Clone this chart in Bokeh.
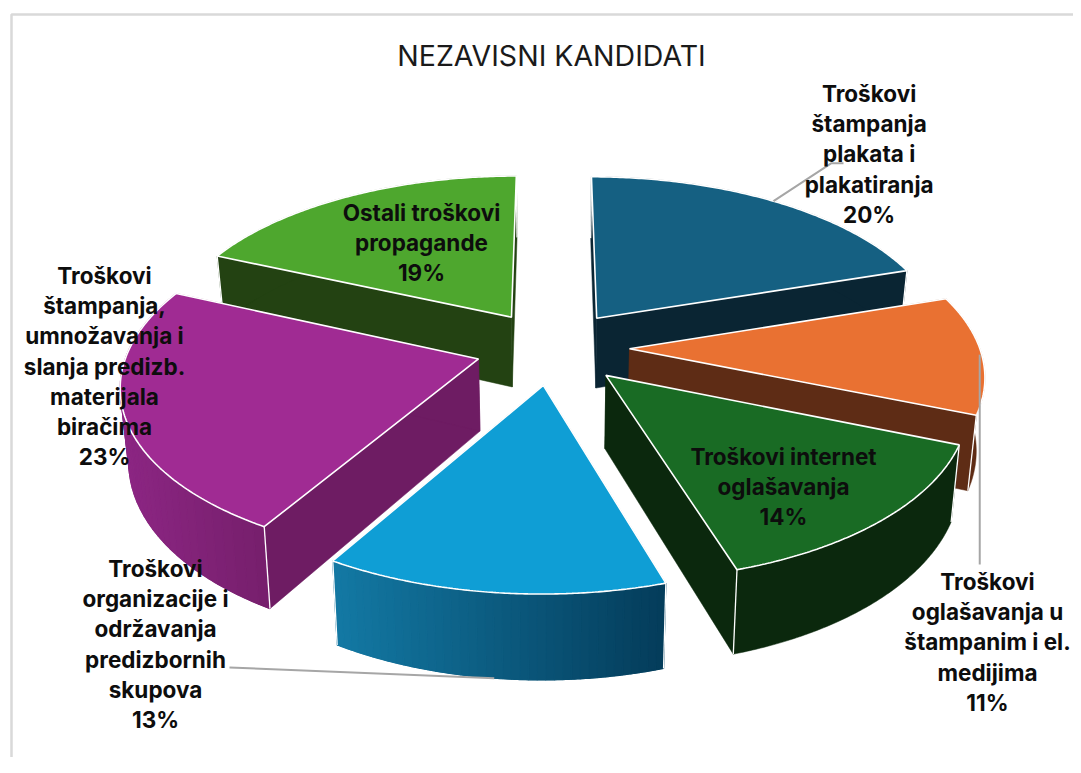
import numpy as np
from bokeh.plotting import figure
from bokeh.models import Range1d
from bokeh.core.properties import value
from bokeh.embed import file_html
from bokeh.resources import INLINE

# ---- data ----
categories = ["Troškovi štampanja plakata i plakatiranja",
              "Troškovi oglašavanja u štampanim i el. medijima",
              "Troškovi internet oglašavanja",
              "Troškovi organizacije i održavanja predizbornih skupova",
              "Troškovi štampanja, umnožavanja i slanja predizb. materijala biračima",
              "Ostali troškovi propagande"]
shares = [20.0, 11.1, 14.1, 13.3, 23.1, 18.4]
percent_labels = ["20%", "11%", "14%", "13%", "23%", "19%"]
label_lines = [["Troškovi", "štampanja", "plakata i", "plakatiranja"],
               ["Troškovi", "oglašavanja u", "štampanim i el.", "medijima"],
               ["Troškovi internet", "oglašavanja"],
               ["Troškovi", "organizacije i", "održavanja", "predizbornih", "skupova"],
               ["Troškovi", "štampanja,", "umnožavanja i", "slanja predizb.", "materijala", "biračima"],
               ["Ostali troškovi", "propagande"]]
title_text = "NEZAVISNI KANDIDATI"

# ---- style ----
top_colors = ["#156082", "#E97132", "#196B24", "#0F9ED5", "#A02B93", "#4EA72E"]
cut_colors = ["#0A2533", "#5E2C15", "#0B280D", "#064060", "#6E1C63", "#234212"]
wall_left = ["#0A2533", "#5E2C15", "#0B280D", "#1379A4", "#8C2683", "#234212"]
wall_right = ["#0A2533", "#5E2C15", "#0B280D", "#043C5A", "#761F6C", "#234212"]
draw_order = [5, 0, 1, 4, 2, 3]
label_cx = [868.6, 987, 783, 155, 104, 421]
label_y0 = [93, 581, 456, 568, 275, 212]
label_dy = 30.2
FONT = "Inter"
FS = "22.5px"

# ---- projection (layout in picture pixels) ----
CX, CY, A, B, K, EXPL, H, TAPER = 552, 347, 350, 168.4, 0.1376, 0.22, 71.5, 0.98


def project(X, Y):
    d = 1 + K * Y
    return CX + A * X / d, CY - B * Y / d, d


def rim(i, theta):
    """top-face point on radius 1 at angle theta (rad clockwise from up), exploded slice i"""
    phi = mids[i]
    return project(np.sin(theta) + EXPL * np.sin(phi), np.cos(theta) + EXPL * np.cos(phi))


def apex(i):
    return project(EXPL * np.sin(mids[i]), EXPL * np.cos(mids[i]))


def lower(pt):
    sx, sy, d = pt
    return CX + (sx - CX) * TAPER, sy + H / d


def lerp_color(c1, c2, t):
    a = [int(c1[j:j + 2], 16) for j in (1, 3, 5)]
    b = [int(c2[j:j + 2], 16) for j in (1, 3, 5)]
    return "#%02x%02x%02x" % tuple(int(round(u + (v - u) * t)) for u, v in zip(a, b))


edges = np.cumsum([0] + shares) / sum(shares) * 2 * np.pi
mids = (edges[:-1] + edges[1:]) / 2

p = figure(width=1073, height=757, x_range=Range1d(0, 1073), y_range=Range1d(757, 0),
           toolbar_location=None, output_backend="svg", min_border=0,
           outline_line_color=None, background_fill_color="white", border_fill_color="white")
p.axis.visible = False
p.grid.visible = False

# frame of the picture
p.line([11, 11, 1073], [757, 14, 14], line_color="#D9D9D9", line_width=2.5)

for i in draw_order:
    t0, t1 = edges[i], edges[i + 1]
    thetas = np.linspace(t0, t1, 121)
    a = apex(i)
    al = lower(a)
    # cut faces
    for t in (t0, t1):
        r = rim(i, t)
        rl = lower(r)
        p.patch([a[0], r[0], rl[0], al[0]], [a[1], r[1], rl[1], al[1]],
                fill_color=cut_colors[i], line_color=cut_colors[i], line_width=0.5)
    # outer wall
    pts = [rim(i, t) for t in thetas]
    lows = [lower(q) for q in pts]
    mid_col = lerp_color(wall_left[i], wall_right[i], 0.5)
    p.patch([q[0] for q in pts] + [q[0] for q in lows[::-1]],
            [q[1] for q in pts] + [q[1] for q in lows[::-1]],
            fill_color=mid_col, line_color=mid_col, line_width=0.5)
    if wall_left[i] != wall_right[i]:
        # shaded along the picture's x, in narrow bands over the flat wall
        xmin, xmax = min(q[0] for q in pts), max(q[0] for q in pts)
        step = 3
        idx = list(range(0, len(pts), step))
        xs, ys, cols = [], [], []
        for j0, j1 in zip(idx[:-1], idx[1:]):
            band_top = pts[j0:j1 + 1]
            band_low = lows[j0:j1 + 1]
            xs.append([q[0] for q in band_top] + [q[0] for q in band_low[::-1]])
            ys.append([q[1] for q in band_top] + [q[1] for q in band_low[::-1]])
            cols.append(lerp_color(wall_left[i], wall_right[i],
                                   (0.5 * (pts[j0][0] + pts[j1][0]) - xmin) / (xmax - xmin)))
        p.patches(xs, ys, fill_color=cols, line_color=cols, line_width=1.2)
    # white corners
    for t in (t0, t1):
        r = rim(i, t)
        rl = lower(r)
        p.line([r[0], rl[0]], [r[1], rl[1]], line_color="white", line_width=1.3)
    # top face
    p.patch([a[0]] + [q[0] for q in pts], [a[1]] + [q[1] for q in pts],
            fill_color=top_colors[i], line_color="white", line_width=1.6)

# leader lines end on each slice's middle
LEADER = "#A6A6A6"
m = rim(0, mids[0])
p.line([m[0], m[0] + 58, m[0] + 70], [m[1], m[1] - 38, m[1] - 38], line_color=LEADER, line_width=2)
m = rim(1, mids[1])
p.line([m[0] - 2, m[0] - 2], [m[1], label_y0[1] - 17], line_color=LEADER, line_width=2)
m = lower(rim(3, mids[3]))
p.line([m[0], label_cx[3] + 74], [m[1], label_y0[3] + 99], line_color=LEADER, line_width=2)

# labels
for i in range(len(categories)):
    lines = label_lines[i] + [percent_labels[i]]
    ys = [label_y0[i] + k * label_dy for k in range(len(lines))]
    p.text([label_cx[i]] * len(lines), ys, text=lines, text_font=value(FONT),
           text_font_size=value(FS), text_font_style="bold", text_color="#0D0D0D",
           text_align="center", text_baseline="middle")

p.text([551], [55], text=[title_text], text_font=value(FONT), text_font_size=value("28.5px"),
       text_color="#1A1A1A", text_align="center", text_baseline="middle")

open("out.html", "w").write(file_html(p, INLINE))
